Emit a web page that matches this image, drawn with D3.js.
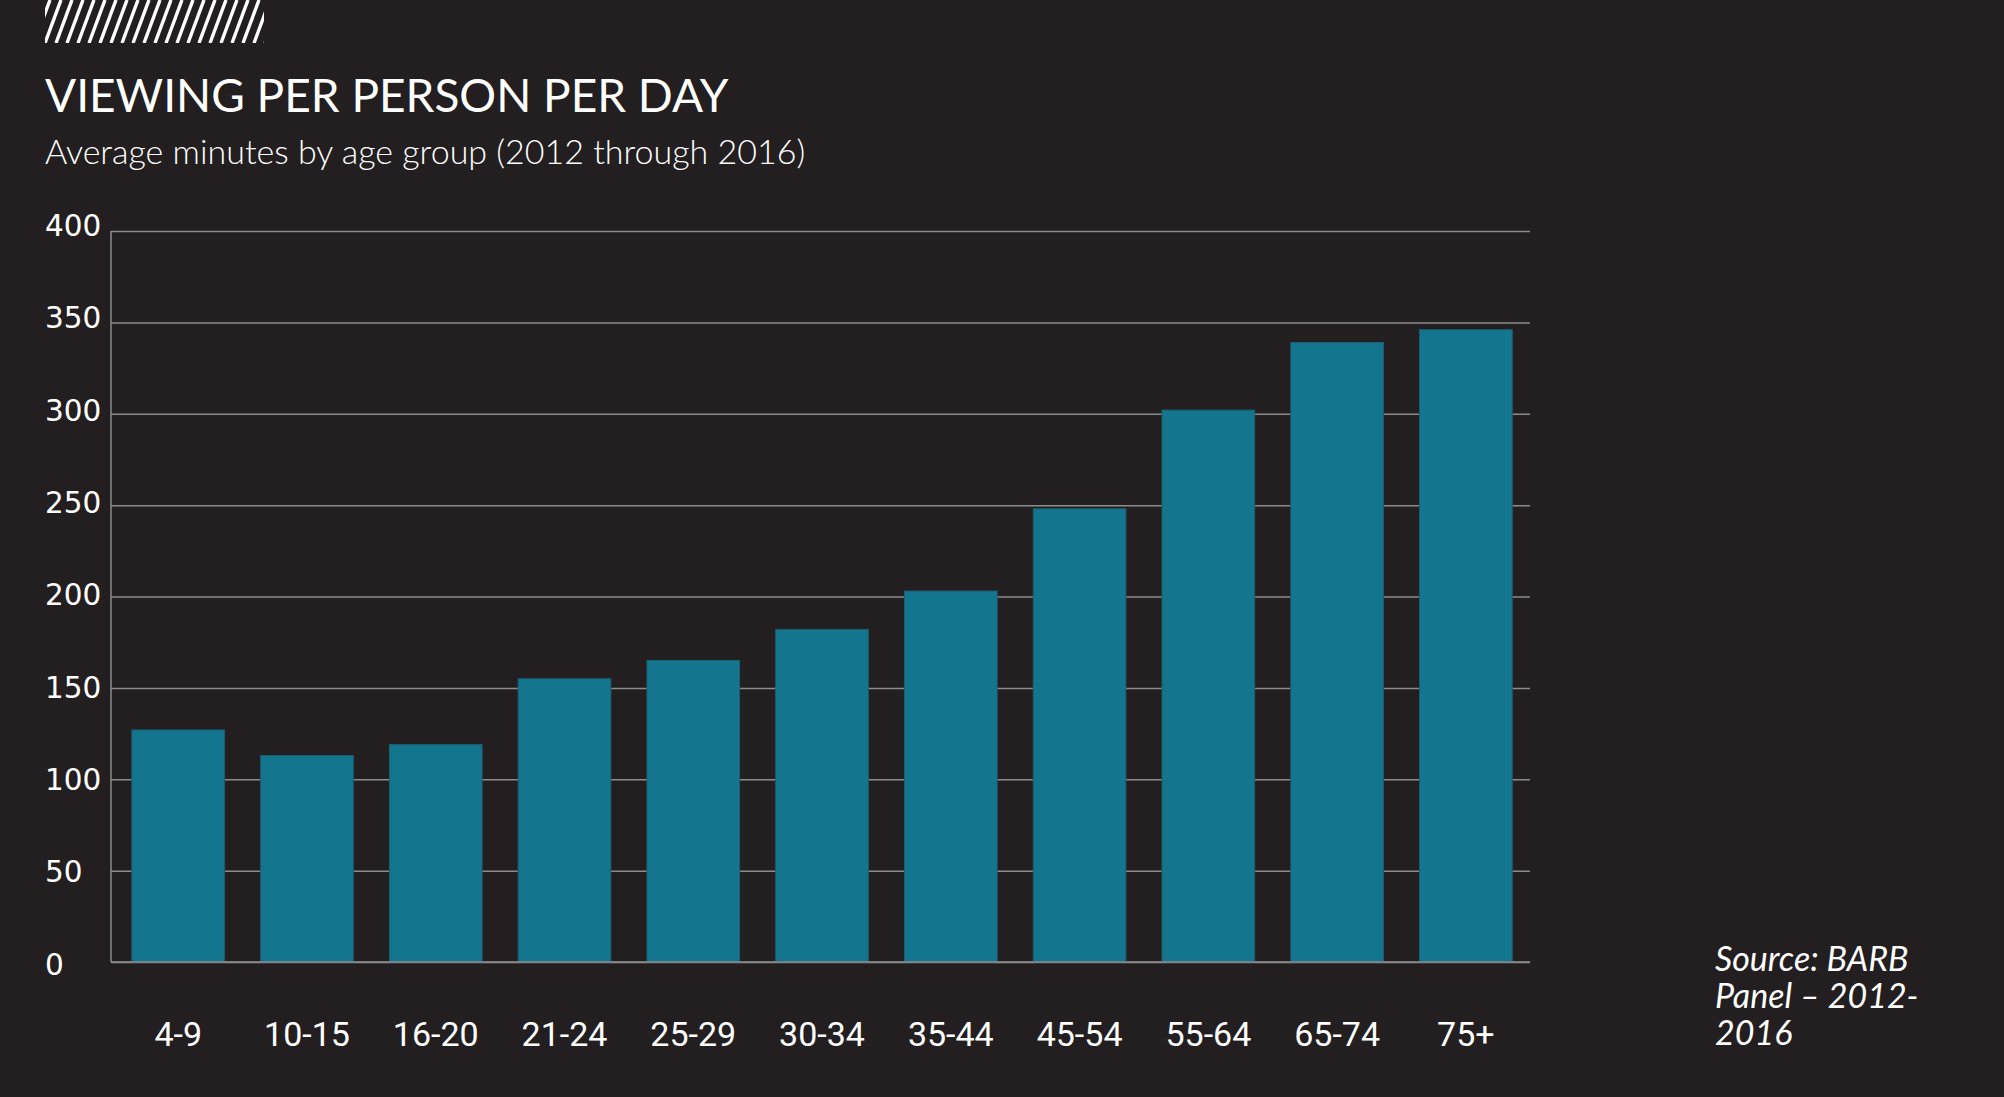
<!DOCTYPE html>
<html>
<head>
<meta charset="utf-8">
<script src="https://cdn.jsdelivr.net/npm/d3@7"></script>
<style>
  html, body { margin: 0; padding: 0; background: #231f20; }
  svg { display: block; }
</style>
</head>
<body>
<script>
var ages = ["4-9", "10-15", "16-20", "21-24", "25-29", "30-34", "35-44", "45-54", "55-64", "65-74", "75+"];
var minutes = [127, 113, 119, 155, 165, 182, 203, 248, 302, 339, 346];
var yTicks = [0, 50, 100, 150, 200, 250, 300, 350, 400];

var w = 2004,
    h = 1097,
    plotLeft = 111,
    plotRight = 1530,
    plotTop = 231,
    plotBottom = 962;

var svg = d3.select("body").append("svg")
    .attr("width", w)
    .attr("height", h);

svg.append("rect")
    .attr("width", w)
    .attr("height", h)
    .attr("fill", "#231f20");

// hatched header block
var defs = svg.append("defs");
var pat = defs.append("pattern")
    .attr("id", "hatch")
    .attr("patternUnits", "userSpaceOnUse")
    .attr("width", 11)
    .attr("height", 43)
    .attr("x", 45);
[-22, -11, 0, 11, 22].forEach(function(o) {
  pat.append("line")
      .attr("x1", o).attr("y1", 43)
      .attr("x2", o + 16).attr("y2", 0)
      .attr("stroke", "#fff")
      .attr("stroke-width", 3.4);
});
svg.append("rect")
    .attr("x", 45).attr("y", 0)
    .attr("width", 219).attr("height", 43)
    .attr("fill", "url(#hatch)");

svg.append("text")
    .attr("x", 45)
    .attr("y", 112)
    .attr("fill", "#fff")
    .style("font-family", "Lato, sans-serif")
    .style("font-size", "46px")
    .text("VIEWING PER PERSON PER DAY");

svg.append("text")
    .attr("x", 45)
    .attr("y", 164)
    .attr("fill", "#fff")
    .style("font-family", "Lato, sans-serif")
    .style("font-weight", 300)
    .style("font-size", "34px")
    .text("Average minutes by age group (2012 through 2016)");

var x = d3.scaleBand()
    .domain(ages)
    .range([plotLeft, plotRight])
    .paddingInner(0.28)
    .paddingOuter(0.15)
    .align(0.54);

var y = d3.scaleLinear()
    .domain([0, 400])
    .range([plotBottom, plotTop]);

// y axis + gridlines
var yAxis = svg.append("g")
    .attr("transform", "translate(" + plotLeft + ",0)")
    .call(d3.axisLeft(y).tickValues(yTicks).tickSize(-(plotRight - plotLeft)).tickPadding(0));

yAxis.select(".domain")
    .attr("stroke", "#8c8c8c")
    .attr("stroke-width", 1.5)
    .attr("d", "M0," + plotTop + "V" + plotBottom);
yAxis.selectAll(".tick line")
    .attr("stroke", "#8c8c8c")
    .attr("stroke-width", 1.5);
// labels drift slightly relative to the gridlines in the original
yAxis.selectAll(".tick text")
    .attr("x", 45 - plotLeft)
    .attr("y", function(d) { return 1.5 - d / 400 * 7.5; })
    .attr("dy", "0.36em")
    .attr("text-anchor", "start")
    .attr("fill", "#fff")
    .style("font-family", "'DejaVu Sans', sans-serif")
    .style("font-size", "29.5px");

// bars
svg.selectAll("rect.bar")
    .data(minutes)
    .enter()
    .append("rect")
    .attr("class", "bar")
    .attr("x", function(d, i) { return x(ages[i]); })
    .attr("y", function(d) { return y(d); })
    .attr("width", x.bandwidth())
    .attr("height", function(d) { return y(0) - y(d); })
    .attr("fill", "#14758f")
    .attr("stroke", "#1b5e72")
    .attr("stroke-width", 1);

// baseline drawn over bars
svg.append("line")
    .attr("x1", plotLeft).attr("x2", plotRight)
    .attr("y1", plotBottom).attr("y2", plotBottom)
    .attr("stroke", "#8c8c8c")
    .attr("stroke-width", 1.5);

// x axis labels
var xAxis = svg.append("g")
    .attr("transform", "translate(0," + plotBottom + ")")
    .call(d3.axisBottom(x).tickSize(0).tickPadding(0));
xAxis.select(".domain").remove();
xAxis.selectAll(".tick text")
    .attr("y", 84)
    .attr("dy", 0)
    .attr("fill", "#fff")
    .style("font-family", "Roboto, sans-serif")
    .style("font-size", "34px");

// source note
var src = svg.append("text")
    .attr("fill", "#fff")
    .style("font-family", "Lato, sans-serif")
    .style("font-style", "italic")
    .style("font-size", "34px");
["Source: BARB", "Panel \u2013 2012-", "2016"].forEach(function(t, i) {
  src.append("tspan")
      .attr("x", 1715)
      .attr("y", 971 + i * 37)
      .text(t);
});
</script>
</body>
</html>
